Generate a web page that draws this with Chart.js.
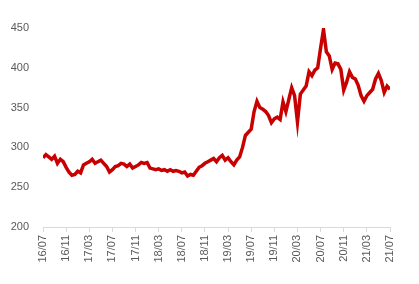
<!DOCTYPE html>
<html>
<head>
<meta charset="utf-8">
<script src="https://cdn.jsdelivr.net/npm/chart.js@4/dist/chart.umd.min.js"></script>
<style>
  html, body { margin: 0; padding: 0; background: #fff; }
  #wrap { width: 419px; height: 284px; }
</style>
</head>
<body>
<div id="wrap"><canvas id="price_chart"></canvas></div>
<script>
// tick labels, one every 4 months (yy/mm)
const monthLabels = ["16/07", "16/11", "17/03", "17/07", "17/11", "18/03", "18/07", "18/11",
    "19/03", "19/07", "19/11", "20/03", "20/07", "20/11", "21/03", "21/07"];

// half-month steps, so 8 steps between two labels
const stepsPerLabel = 8;

const prices = [
    287, 291, 288, 285, 289, 280, 285, 282,
    275, 269, 265, 266, 270, 268, 278, 280,
    282, 285, 280, 282, 284, 280, 276, 269,
    272, 276, 277, 280, 279, 276, 279, 274,
    276, 278, 281, 280, 281, 274, 273, 272,
    273, 271, 272, 270, 272, 270, 271, 270,
    268, 269, 264, 266, 265, 270, 275, 277,
    280, 282, 284, 286, 282, 287, 290, 284,
    287, 282, 278, 284, 288, 300, 315, 319,
    323, 345, 358, 350, 348, 345, 340, 331,
    336, 338, 335, 357, 345, 360, 375, 365,
    332, 367, 372, 377, 395, 390, 397, 400,
    425, 448, 420, 415, 398, 406, 405, 398,
    372, 382, 395, 388, 386, 378, 365, 358,
    365, 369, 373, 386, 393, 384, 369, 377,
    373
];

const yTicks = [200, 250, 300, 350, 400, 450];

const points = prices.map((v, i) => ({ x: i, y: v }));
const axisGray = "#d9d9d9";
const textGray = "#595959";
const font = { family: "'Liberation Sans', Arial, sans-serif", size: 11 };

const priceChart = new Chart(document.getElementById("price_chart"), {
    type: "line",
    data: {
        datasets: [{
            data: points,
            borderColor: "#c80000",
            borderWidth: 3.5,
            pointRadius: 0,
            tension: 0,
            fill: false
        }]
    },
    options: {
        responsive: true,
        maintainAspectRatio: false,
        animation: false,
        layout: { padding: { top: 28, right: 29, left: 0, bottom: 0 } },
        plugins: { legend: { display: false }, tooltip: { enabled: false } },
        scales: {
            x: {
                type: "linear",
                min: 0,
                max: (monthLabels.length - 1) * stepsPerLabel,
                afterBuildTicks: s => {
                    s.ticks = monthLabels.map((_, i) => ({ value: i * stepsPerLabel }));
                },
                afterFit: s => { s.height = 57; },
                grid: { drawOnChartArea: false, drawTicks: true, tickLength: 5, color: axisGray },
                border: { display: true, color: axisGray, width: 1 },
                ticks: {
                    minRotation: 90,
                    maxRotation: 90,
                    autoSkip: false,
                    padding: 3,
                    color: textGray,
                    font: font,
                    callback: v => monthLabels[Math.round(v / stepsPerLabel)]
                }
            },
            y: {
                min: yTicks[0],
                max: yTicks[yTicks.length - 1],
                afterBuildTicks: s => { s.ticks = yTicks.map(v => ({ value: v })); },
                afterFit: s => { s.width = 43; },
                grid: { display: false, drawTicks: false },
                border: { display: false },
                ticks: { padding: 14, color: textGray, font: font }
            }
        }
    }
});
</script>
</body>
</html>
